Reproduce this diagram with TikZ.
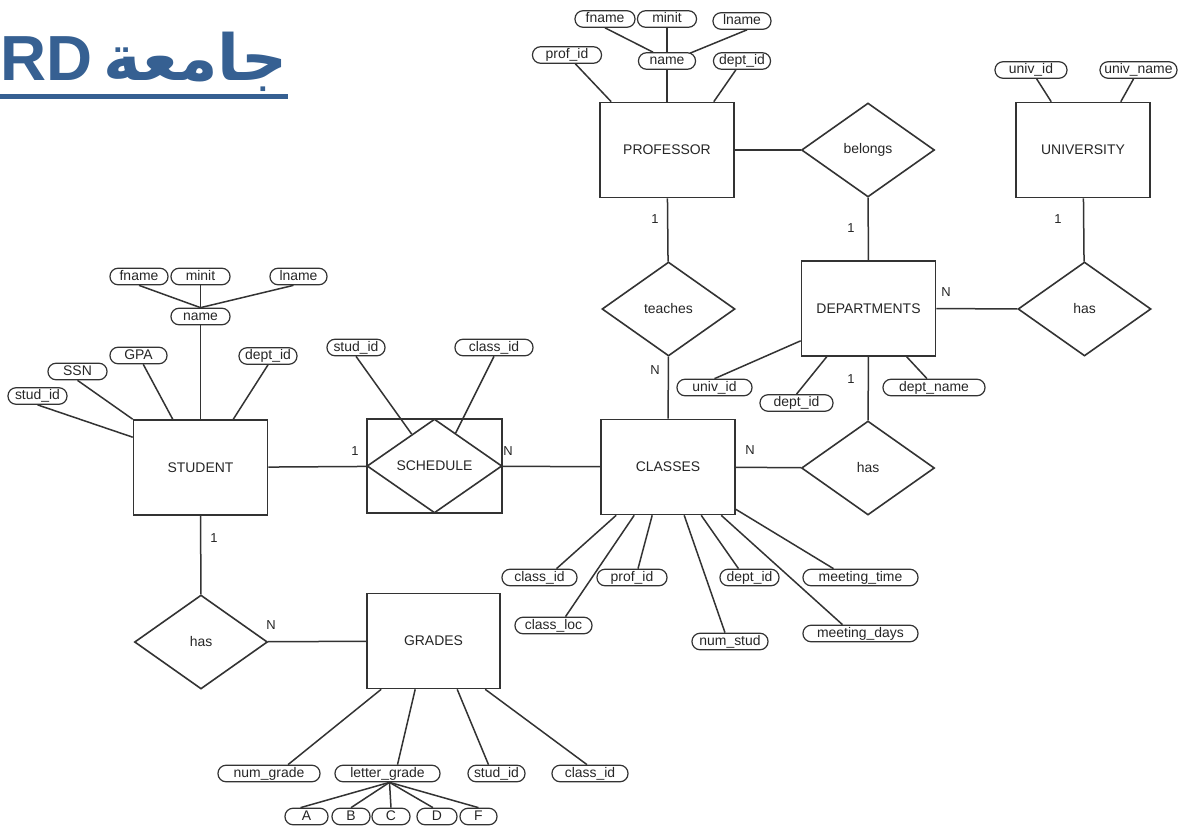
\documentclass[tikz,border=0pt]{standalone}
\usepackage{fontspec}
\setmainfont{Liberation Sans}
\newfontfamily\arabicfont[Script=Arabic]{DejaVu Sans}
\TeXXeTstate=1
\usetikzlibrary{shapes.geometric,calc}
\definecolor{ink}{HTML}{333333}
\definecolor{titleblue}{HTML}{366092}

\begin{document}
\begin{tikzpicture}[x=1bp,y=-1bp,
  every node/.style={text=black!85},
  entity/.style={draw=ink, line width=1.6bp, rectangle, minimum width=134bp,
    minimum height=95bp, inner sep=0pt, font=\fontsize{14}{15}\selectfont},
  relation/.style={draw=ink, line width=1.6bp, diamond, minimum width=133bp,
    minimum height=94bp, inner sep=0pt, font=\fontsize{14}{15}\selectfont},
  attr/.style={draw=ink, line width=1.2bp, rectangle, rounded corners=8bp,
    minimum width=#1, minimum height=16.5bp, inner sep=0pt, text height=9.5bp,
    text depth=2.5bp, font=\fontsize{14}{15}\selectfont},
  card/.style={inner sep=0pt, font=\fontsize{13}{14}\selectfont},
  link/.style={draw=ink, line width=1.5bp},
]
\useasboundingbox (0,0) rectangle (1187,831);
\fill[white] (0,0) rectangle (1187,831);

% ---------- title ----------
\node[anchor=base west, inner sep=0pt, text=titleblue,
  font=\fontsize{64}{64}\selectfont\bfseries] (ttl) at (0,80) {RD};
\node[anchor=base east, inner sep=0pt, text=titleblue,
  font=\fontsize{64}{64}\selectfont\bfseries] (ttlar) at (288,80)
  {\arabicfont\beginR جامعة\endR};
\fill[titleblue] (0,93.5) rectangle (288,98.5);

% ---------- entities ----------
\node[entity] (prof)   at (667,150)     {PROFESSOR};
\node[entity] (dept)   at (868.5,308.5) {DEPARTMENTS};
\node[entity] (univ)   at (1083,150)    {UNIVERSITY};
\node[entity] (cls)    at (668,467)     {CLASSES};
\node[entity] (stud)   at (200.5,467.5) {STUDENT};
\node[entity, minimum width=135bp, minimum height=94bp] (sched) at (434.5,466) {};
\node[entity, minimum width=133bp] (grades) at (433.5,641) {GRADES};

% ---------- relationships ----------
\node[relation] (belongs) at (868,150)    {belongs};
\node[relation] (teaches) at (668.5,309)  {teaches};
\node[relation] (hasU)    at (1084.5,309) {has};
\node[relation] (hasC)    at (868,468)    {has};
\node[relation] (hasS)    at (201,642)    {has};
\node[relation, minimum width=135bp] (schd) at (434.5,466) {SCHEDULE};

% ---------- relationship links ----------
\draw[link] (prof) -- (belongs);
\draw[link] (belongs) -- (dept);
\draw[link] (prof) -- (teaches);
\draw[link] (teaches) -- (cls);
\draw[link] (dept) -- (hasU);
\draw[link] (univ) -- (hasU);
\draw[link] (dept) -- (hasC);
\draw[link] (cls) -- (hasC);
\draw[link] (stud) -- (sched);
\draw[link] (sched) -- (cls);
\draw[link] (stud) -- (hasS);
\draw[link] (hasS) -- (grades);

% ---------- cardinalities ----------
\node[card] (c1) at (851,228) {1};
\node[card] (c2) at (655,219) {1};
\node[card] (c3) at (655,370) {N};
\node[card] (c4) at (946,292) {N};
\node[card] (c5) at (1058,219) {1};
\node[card] (c6) at (851,379) {1};
\node[card] (c7) at (750,450) {N};
\node[card] (c8) at (355,451) {1};
\node[card] (c9) at (508,451) {N};
\node[card] (c10) at (214,538) {1};
\node[card] (c11) at (271,625) {N};

% ---------- PROFESSOR attributes ----------
\node[attr=60bp] (pfn)  at (605,19)  {fname};
\node[attr=59bp] (pmi)  at (667,19)  {minit};
\node[attr=58bp] (pln)  at (742,21)  {lname};
\node[attr=57bp] (pnm)  at (667,61)  {name};
\node[attr=69bp] (pid)  at (567,55)  {prof\_id};
\node[attr=57bp] (pdid) at (742,61)  {dept\_id};
\draw[link] (pfn.south) -- ($(pnm.north)+(-14,0)$);
\draw[link] ($(pln.south)+(5,0)$) -- ($(pnm.north east)+(-6,1)$);
\draw[link] (pmi) -- (pnm);
\draw[link] (pnm) -- (prof);
\draw[link] (pid) -- ($(prof.north west)+(12,0)$);
\draw[link] (pdid) -- ($(prof.north east)+(-21,0)$);

% ---------- UNIVERSITY attributes ----------
\node[attr=72bp] (uid) at (1031,70)   {univ\_id};
\node[attr=77bp] (unm) at (1138.5,70) {univ\_name};
\draw[link] (uid) -- ($(univ.north west)+(36,0)$);
\draw[link] (unm) -- ($(univ.north east)+(-30,0)$);

% ---------- STUDENT attributes ----------
\node[attr=58bp] (sfn)  at (139,276.5)  {fname};
\node[attr=59bp] (smi)  at (200.5,276.5) {minit};
\node[attr=57bp] (sln)  at (298.5,276.5) {lname};
\node[attr=59bp] (snm)  at (200.5,316.5) {name};
\node[attr=57bp] (sgpa) at (138.5,355.5) {GPA};
\node[attr=59bp] (sssn) at (77.5,371.5)  {SSN};
\node[attr=59bp] (ssid) at (37.5,396)    {stud\_id};
\node[attr=58bp] (sdid) at (268,356)     {dept\_id};
\draw[link] (sfn.south) -- (snm.north);
\draw[link] ($(sln.south)+(-5,0)$) -- (snm.north);
\draw[link] (smi) -- (snm);
\draw[link] (snm) -- (stud);
\draw[link] (sgpa) -- ($(stud.north west)+(40,0)$);
\draw[link] (sssn.south) -- (stud.north west);
\draw[link] (ssid.south) -- ($(stud.north west)+(0,18)$);
\draw[link] (sdid.south) -- ($(stud.north east)+(-35,0)$);

% ---------- SCHEDULE attributes ----------
\node[attr=58bp] (scsid) at (356,347.5) {stud\_id};
\node[attr=78bp] (sccid) at (494,347.5) {class\_id};
\draw[link] (scsid.south) -- (schd);
\draw[link] (sccid.south) -- ($(schd.north)!0.31!(schd.east)$);

% ---------- DEPARTMENTS attributes ----------
\node[attr=75bp]  (duid) at (714.5,387.5) {univ\_id};
\node[attr=73bp]  (ddid) at (796.5,403)   {dept\_id};
\node[attr=102bp] (ddnm) at (934,387.5)   {dept\_name};
\draw[link] (duid.north) -- ($(dept.south west)+(0,-16)$);
\draw[link] (ddid.north) -- ($(dept.south west)+(26,0)$);
\draw[link] ($(ddnm.north)+(-7,0)$) -- ($(dept.south west)+(106,0)$);

% ---------- CLASSES attributes ----------
\node[attr=75bp]  (ccid) at (539.5,577.5) {class\_id};
\node[attr=70bp]  (cpid) at (632,577.5)   {prof\_id};
\node[attr=59bp]  (cdid) at (749.5,577.5) {dept\_id};
\node[attr=115bp] (cmt)  at (860.5,577.5) {meeting\_time};
\node[attr=77bp]  (cloc) at (553.5,625.5) {class\_loc};
\node[attr=76bp]  (cns)  at (730,641.5)   {num\_stud};
\node[attr=115bp] (cmd)  at (860.5,633.5) {meeting\_days};
\draw[link] ($(ccid.north)+(17,0)$) -- ($(cls.south west)+(16,0)$);
\draw[link] ($(cloc.north)+(12,0)$) -- ($(cls.south west)+(34,0)$);
\draw[link] ($(cpid.north)+(6,0)$) -- ($(cls.south west)+(52,0)$);
\draw[link] ($(cns.north)+(-5,0)$) -- ($(cls.south west)+(84,0)$);
\draw[link] ($(cdid.north)+(-11,0)$) -- ($(cls.south west)+(101,0)$);
\draw[link] ($(cmd.north)+(-18,0)$) -- ($(cls.south west)+(121,0)$);
\draw[link] ($(cmt.north)+(-27,0)$) -- ($(cls.south east)+(0,-6)$);

% ---------- GRADES attributes ----------
\node[attr=102bp] (gng)  at (269,773.5)   {num\_grade};
\node[attr=105bp] (glg)  at (387.5,773.5) {letter\_grade};
\node[attr=57bp]  (gsid) at (496.5,773.5) {stud\_id};
\node[attr=76bp]  (gcid) at (590,773.5)   {class\_id};
\node[attr=43bp]  (gA)   at (306.5,816.5) {A};
\node[attr=38bp]  (gB)   at (351,816.5)   {B};
\node[attr=38bp]  (gC)   at (391,816.5)   {C};
\node[attr=40bp]  (gD)   at (437,816.5)   {D};
\node[attr=37bp]  (gF)   at (478.5,816.5) {F};
\draw[link] ($(gng.north)+(19,0)$) -- ($(grades.south west)+(15,0)$);
\draw[link] ($(glg.north)+(10,0)$) -- ($(grades.south west)+(49,0)$);
\draw[link] ($(gsid.north)+(-8,0)$) -- ($(grades.south west)+(91,0)$);
\draw[link] ($(gcid.north)+(-3,0)$) -- ($(grades.south west)+(119,0)$);
\coordinate (lg) at ($(glg.south)+(2,0)$);
\draw[link] (lg) -- ($(gA.north)+(-6,0)$);
\draw[link] (lg) -- (gB.north);
\draw[link] (lg) -- (gC.north);
\draw[link] (lg) -- ($(gD.north)+(-4,0)$);
\draw[link] (lg) -- (gF.north);
\end{tikzpicture}
\end{document}
